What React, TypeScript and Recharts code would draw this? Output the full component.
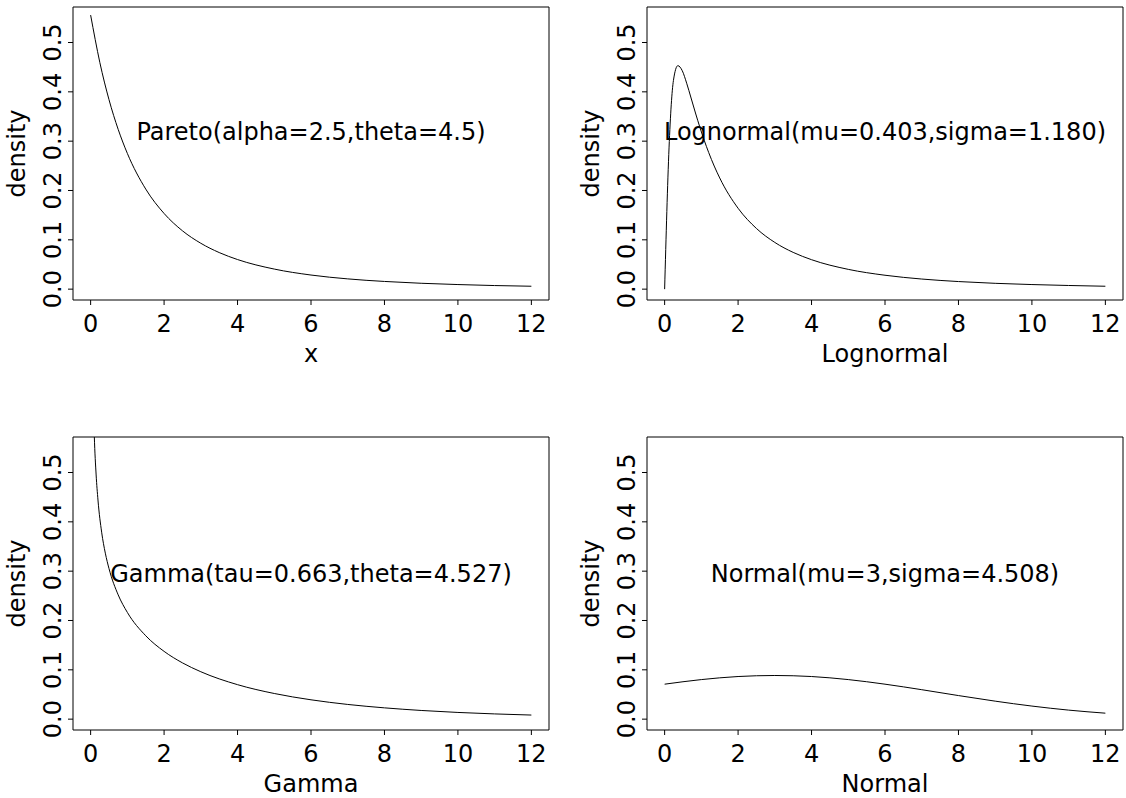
import React from "react";
import {
  LineChart,
  Line,
  XAxis,
  YAxis,
  ReferenceArea,
  ReferenceDot,
  Label,
} from "recharts";

// values
const xTicks = [0, 2, 4, 6, 8, 10, 12];
const yTicks = [0, 0.1, 0.2, 0.3, 0.4, 0.5];

const paretoX = [0, 0.25, 0.5, 0.75, 1, 1.5, 2, 2.5, 3, 3.5, 4, 5, 6, 7, 8, 9, 10, 11, 12];
const paretoY = [
  0.5556, 0.4598, 0.3842, 0.3239, 0.2752, 0.2029, 0.1534, 0.1183, 0.093, 0.0742, 0.06,
  0.0407, 0.0286, 0.0208, 0.0156, 0.0119, 0.0093, 0.0073, 0.0059,
];

const lognormalX = [
  0, 0.12, 0.24, 0.36, 0.48, 0.6, 0.72, 0.84, 0.96, 1.2, 1.5, 2, 2.5, 3, 3.5, 4, 5, 6, 7, 8, 9,
  10, 11, 12,
];
const lognormalY = [
  0, 0.2864, 0.4232, 0.4531, 0.4428, 0.4175, 0.3875, 0.3571, 0.3281, 0.2769, 0.2254, 0.164,
  0.123, 0.0947, 0.0745, 0.0597, 0.0401, 0.0282, 0.0205, 0.0154, 0.0118, 0.0093, 0.0074, 0.0059,
];

const gammaX = [0.06, 0.1, 0.15, 0.2, 0.3, 0.4, 0.5, 0.75, 1, 1.5, 2, 2.5, 3, 4, 5, 6, 7, 8, 9, 10, 11, 12];
const gammaY = [
  0.6875, 0.5737, 0.495, 0.4443, 0.379, 0.3365, 0.3053, 0.252, 0.2164, 0.1691, 0.1374, 0.1141,
  0.0961, 0.0699, 0.052, 0.0392, 0.0298, 0.0229, 0.0176, 0.0136, 0.0106, 0.0083,
];

const normalX = [0, 1, 2, 3, 4, 5, 6, 7, 8, 9, 10, 11, 12];
const normalY = [
  0.0709, 0.0802, 0.0864, 0.0885, 0.0864, 0.0802, 0.0709, 0.0597, 0.0478, 0.0365, 0.0265,
  0.0183, 0.0121,
];

const axisTitles = ["x", "Lognormal", "Gamma", "Normal"];
const notes = [
  "Pareto(alpha=2.5,theta=4.5)",
  "Lognormal(mu=0.403,sigma=1.180)",
  "Gamma(tau=0.663,theta=4.527)",
  "Normal(mu=3,sigma=4.508)",
];
const noteX = [6, 6, 6, 6];
const noteY = [0.32, 0.32, 0.295, 0.295];

const FONT = "DejaVu Sans";
const FS = 24;
const PLOT_W = 476;
const PLOT_H = 293;
const ML = 74;
const MR = 3;
const MT = 7;
const MB = 100;
const X_DOMAIN = [-0.48, 12.48];
const Y_DOMAIN = [-0.022, 0.572];

const toRows = (xs: number[], ys: number[]) => xs.map((x, i) => ({ x, y: ys[i] }));

const series = [
  toRows(paretoX, paretoY),
  toRows(lognormalX, lognormalY),
  toRows(gammaX, gammaY),
  toRows(normalX, normalY),
];

const spots = [
  { left: -1, top: 0 },
  { left: 573, top: 0 },
  { left: -1, top: 430 },
  { left: 573, top: 430 },
];

const YTick = (props: any) => {
  const { x, y, payload } = props;
  return (
    <text
      x={x}
      y={y}
      transform={`rotate(-90, ${x}, ${y})`}
      textAnchor="middle"
      fontSize={FS}
      fontFamily={FONT}
      fill="#000"
    >
      {Number(payload.value).toFixed(1)}
    </text>
  );
};

const DensityLabel = () => {
  const x = ML - 48;
  const y = MT + PLOT_H / 2;
  return (
    <text
      x={x}
      y={y}
      transform={`rotate(-90, ${x}, ${y})`}
      textAnchor="middle"
      fontSize={FS}
      fontFamily={FONT}
      fill="#000"
    >
      density
    </text>
  );
};

const Panel = ({ idx }: { idx: number }) => {
  const spot = spots[idx];
  return (
    <div style={{ position: "absolute", left: spot.left, top: spot.top }}>
      <LineChart
        width={ML + PLOT_W + MR}
        height={MT + PLOT_H + MB}
        data={series[idx]}
        margin={{ top: MT, right: MR, bottom: 0, left: 0 }}
      >
        <XAxis
          dataKey="x"
          type="number"
          domain={X_DOMAIN}
          ticks={xTicks}
          interval={0}
          height={MB}
          axisLine={false}
          tickSize={5}
          tickMargin={10}
          tickLine={{ stroke: "#000" }}
          tick={{ fontSize: FS, fontFamily: FONT, fill: "#000" }}
        >
          <Label
            value={axisTitles[idx]}
            position="insideBottom"
            offset={38}
            fontSize={FS}
            fontFamily={FONT}
            fill="#000"
          />
        </XAxis>
        <YAxis
          type="number"
          domain={Y_DOMAIN}
          allowDataOverflow
          ticks={yTicks}
          interval={0}
          width={ML}
          axisLine={false}
          tickSize={5}
          tickMargin={7}
          tickLine={{ stroke: "#000" }}
          tick={<YTick />}
        >
          <Label content={<DensityLabel />} />
        </YAxis>
        <ReferenceArea
          x1={X_DOMAIN[0]}
          x2={X_DOMAIN[1]}
          y1={Y_DOMAIN[0]}
          y2={Y_DOMAIN[1]}
          fill="none"
          stroke="#000"
          strokeWidth={1}
          fillOpacity={0}
          ifOverflow="visible"
        />
        <ReferenceDot
          x={noteX[idx]}
          y={noteY[idx]}
          r={0}
          fill="none"
          stroke="none"
          label={{
            value: notes[idx],
            position: "center",
            fontSize: FS,
            fontFamily: FONT,
            fill: "#000",
          }}
        />
        <Line
          type="monotone"
          dataKey="y"
          stroke="#000"
          strokeWidth={1}
          dot={false}
          isAnimationActive={false}
        />
      </LineChart>
    </div>
  );
};

export default function App() {
  return (
    <div
      style={{
        position: "fixed",
        left: 0,
        top: 0,
        width: 1126,
        height: 798,
        overflow: "hidden",
        background: "#fff",
        fontFamily: FONT,
      }}
    >
      {[0, 1, 2, 3].map((i) => (
        <Panel key={i} idx={i} />
      ))}
    </div>
  );
}
